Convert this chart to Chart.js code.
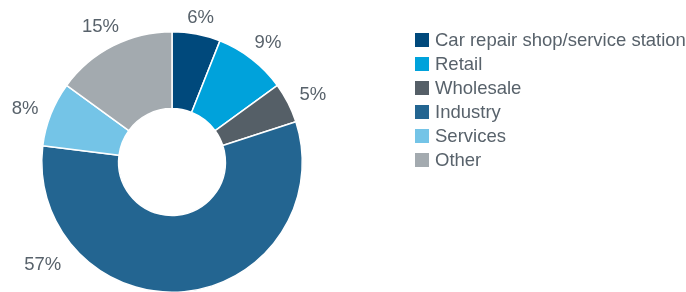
<!DOCTYPE html>
<html>
<head>
<meta charset="utf-8">
<script src="https://cdn.jsdelivr.net/npm/chart.js@4.4.1/dist/chart.umd.min.js"></script>
<style>
    html, body { margin: 0; padding: 0; background: #fff; overflow: hidden; }
    #wrap { position: relative; width: 686px; height: 292px; overflow: hidden; }
    #chart { position: absolute; left: 0; top: 0; }
    #legend { position: absolute; left: 415px; top: 32px; font-family: "Liberation Sans", Arial, sans-serif; font-size: 18.5px; color: #58626b; }
    .row { position: relative; height: 24px; }
    .box { position: absolute; left: 0; top: 1px; width: 14px; height: 14px; }
    .txt { position: absolute; left: 20px; top: -2px; line-height: 20px; white-space: nowrap; }
</style>
</head>
<body>
<div id="wrap">
    <canvas id="chart" width="686" height="300"></canvas>
    <div id="legend"></div>
</div>
<script>
// Data
const categories = ['Car repair shop/service station', 'Retail', 'Wholesale', 'Industry', 'Services', 'Other'];
const shares = [6, 9, 5, 57, 8, 15];
const colors = ['#00497c', '#00a2db', '#555f67', '#236591', '#74c4e7', '#a3aaaf'];

const textColor = '#58626b';

// Percent labels outside the ring; the 57% label sits lower left because the ring is cut at the bottom
const outerLabels = {
    id: 'outerLabels',
    afterDatasetsDraw(chart) {
        const ctx = chart.ctx;
        const meta = chart.getDatasetMeta(0);
        const angleOverride = { 3: 233 }; // degrees clockwise from top
        ctx.save();
        ctx.font = '18.5px "Liberation Sans", Arial, sans-serif';
        ctx.fillStyle = textColor;
        ctx.textAlign = 'center';
        ctx.textBaseline = 'middle';
        meta.data.forEach((arc, i) => {
            const p = arc.getProps(['x', 'y', 'startAngle', 'endAngle', 'outerRadius']);
            let a = (p.startAngle + p.endAngle) / 2;
            if (angleOverride[i] !== undefined) a = angleOverride[i] * Math.PI / 180 - Math.PI / 2;
            const label = shares[i] + '%';
            const w = ctx.measureText(label).width;
            const h = 13;
            const ext = Math.abs(Math.cos(a)) * w / 2 + Math.abs(Math.sin(a)) * h / 2;
            const r = p.outerRadius + 13 + ext;
            ctx.fillText(label, p.x + Math.cos(a) * r, p.y + Math.sin(a) * r + 5);
        });
        ctx.restore();
    }
};

new Chart(document.getElementById('chart'), {
    type: 'doughnut',
    data: {
        labels: categories,
        datasets: [{
            data: shares,
            backgroundColor: colors,
            borderColor: '#ffffff',
            borderWidth: 1.5,
            hoverOffset: 0
        }]
    },
    options: {
        responsive: false,
        devicePixelRatio: 1,
        animation: false,
        cutout: '41%',
        layout: { padding: { left: 41, top: 31, right: 383, bottom: 7 } },
        plugins: {
            legend: { display: false },
            tooltip: { enabled: false }
        }
    },
    plugins: [outerLabels]
});

// Legend
const legend = document.getElementById('legend');
categories.forEach((name, i) => {
    const row = document.createElement('div');
    row.className = 'row';
    row.innerHTML = '<span class="box" style="background:' + colors[i] + '"></span><span class="txt">' + name + '</span>';
    legend.appendChild(row);
});
</script>
</body>
</html>
